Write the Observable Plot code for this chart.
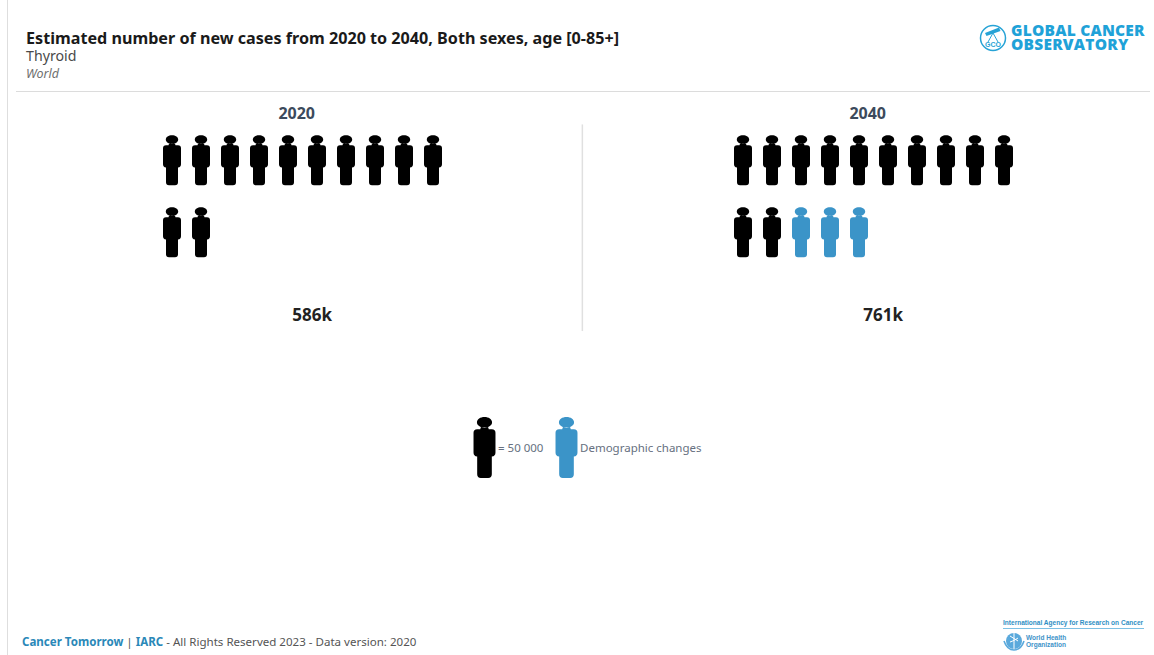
<!DOCTYPE html>
<html>
<head>
<meta charset="utf-8">
<script src="https://cdn.jsdelivr.net/npm/d3@7"></script>
<script src="https://cdn.jsdelivr.net/npm/@observablehq/plot@0.6"></script>
<style>
  html, body { margin: 0; padding: 0; background: #fff; }
  body { width: 1154px; height: 655px; position: relative; overflow: hidden; font-family: "Noto Sans", sans-serif; }
  .abs { position: absolute; white-space: nowrap; }
  #title { left: 26px; top: 31px; font-size: 16.15px; font-weight: 700; color: #1a1a1a; line-height: 15px; }
  #cancer { left: 26px; top: 48px; font-size: 14.2px; color: #4a4a4a; line-height: 16px; }
  #region { left: 26px; top: 66px; font-size: 12.5px; font-style: italic; color: #6f6f6f; line-height: 16px; }
  #rule-h { left: 16px; top: 91px; width: 1134px; height: 1px; background: #dcdcdc; }
  #rule-v { left: 7px; top: 0; width: 1px; height: 655px; background: #dedede; }
  #pictogram { left: 0; top: 92px; }
  #legend { left: 0; top: 400px; }
  #footer { left: 22px; top: 633px; font-size: 11.55px; color: #555; line-height: 18px; }
  #footer b { color: #2a88b8; }
  #gco { left: 978px; top: 20px; }
  #iarc { left: 1000px; top: 614px; }
</style>
</head>
<body>
<div class="abs" id="rule-v"></div>
<div class="abs" id="title"></div>
<div class="abs" id="cancer"></div>
<div class="abs" id="region"></div>
<div class="abs" id="rule-h"></div>
<div class="abs" id="pictogram"></div>
<div class="abs" id="legend"></div>
<div class="abs" id="footer"><b>Cancer Tomorrow</b> | <b>IARC</b> - All Rights Reserved 2023 - Data version: 2020</div>

<svg class="abs" id="gco" width="176" height="38" viewBox="0 0 176 38">
  <circle cx="15" cy="18" r="12.5" fill="none" stroke="#27a3d6" stroke-width="1.5"/>
  <path d="M7 13 L21 7.5 L22.5 11 L8.5 16 Z" fill="#27a3d6"/>
  <path d="M15 13 L10 22 M15 13 L20 22" stroke="#27a3d6" stroke-width="1" fill="none"/>
  <text x="15" y="27" text-anchor="middle" font-family="Liberation Sans" font-size="7" font-weight="700" fill="#27a3d6">GCO</text>
  <text font-family="Open Sans" font-size="15.5" font-weight="800" letter-spacing="0.22" fill="#1fa2d8"><tspan x="33" y="16">GLOBAL CANCER</tspan><tspan x="33" y="30">OBSERVATORY</tspan></text>
</svg>

<svg class="abs" id="iarc" width="154" height="38" viewBox="0 0 154 38">
  <g transform="translate(3 10.5) scale(0.82 1)">
    <text x="0" y="0" font-family="Liberation Sans" font-size="8" font-weight="700" fill="#2f8fc4">International Agency for Research on Cancer</text>
  </g>
  <rect x="3" y="14" width="141" height="1" fill="#7cc0e4"/>
  <circle cx="14" cy="27" r="8" fill="#5aa9dc"/>
  <path d="M4 27 C6 33 9 36 14 36 C19 36 22 33 24 27" fill="none" stroke="#5aa9dc" stroke-width="1.6"/>
  <path d="M14 19 V35 M10 22 C13 24 15 25 18 27 M10 28 C13 27 15 26 18 24" stroke="#fff" stroke-width="1" fill="none"/>
  <g transform="translate(26 0) scale(0.82 1)" font-family="Liberation Sans" font-size="8" font-weight="700" fill="#3e93c9">
    <text x="0" y="26">World Health</text>
    <text x="0" y="33.5">Organization</text>
  </g>
</svg>

<script>
// Figures shown in the chart
const titleText = "Estimated number of new cases from 2020 to 2040, Both sexes, age [0-85+]";
const cancerName = "Thyroid";
const regionName = "World";
const years = [2020, 2040];
const totalsK = [586, 761];          // new cases, thousands
const casesPerIconK = 50;            // one figure stands for 50 000 cases
const iconsPerRow = 10;
const legendKinds = ["Base", "Demographic changes"];
const legendLabels = ["= 50 000", "Demographic changes"];
const kindColors = ["#000000", "#3b94c8"];

document.getElementById("title").textContent = titleText;
document.getElementById("cancer").textContent = cancerName;
document.getElementById("region").textContent = regionName;

// A standing figure, centred on the origin and scaled by the dot radius
const person = {
  draw(ctx, size) {
    const r = Math.sqrt(size / Math.PI);
    const u = r / 25; // drawn on a 50-unit-tall grid
    const P = (x, y) => [x * u, y * u];
    // head
    ctx.moveTo(...P(6.2, -20.6));
    ctx.bezierCurveTo(...P(6.2, -23.2), ...P(3.4, -25), ...P(0, -25));
    ctx.bezierCurveTo(...P(-3.4, -25), ...P(-6.2, -23.2), ...P(-6.2, -20.6));
    ctx.bezierCurveTo(...P(-6.2, -18), ...P(-3.4, -16.2), ...P(0, -16.2));
    ctx.bezierCurveTo(...P(3.4, -16.2), ...P(6.2, -18), ...P(6.2, -20.6));
    ctx.closePath();
    // torso and legs
    ctx.moveTo(...P(-3, -16.5));
    ctx.lineTo(...P(3, -16.5));
    ctx.lineTo(...P(3.5, -15));
    ctx.lineTo(...P(6, -15));
    ctx.quadraticCurveTo(...P(9, -15), ...P(9, -12));
    ctx.lineTo(...P(9, 4));
    ctx.quadraticCurveTo(...P(9, 7), ...P(6, 7.4));
    ctx.lineTo(...P(6, 22));
    ctx.quadraticCurveTo(...P(6, 25), ...P(3, 25));
    ctx.lineTo(...P(-3, 25));
    ctx.quadraticCurveTo(...P(-6, 25), ...P(-6, 22));
    ctx.lineTo(...P(-6, 7.4));
    ctx.quadraticCurveTo(...P(-9, 7), ...P(-9, 4));
    ctx.lineTo(...P(-9, -12));
    ctx.quadraticCurveTo(...P(-9, -15), ...P(-6, -15));
    ctx.lineTo(...P(-3.5, -15));
    ctx.closePath();
  }
};

// One figure per 50 000 cases; those beyond the first year's count are demographic growth
const iconCounts = totalsK.map(t => Math.round(t / casesPerIconK));
const icons = years.flatMap((year, j) =>
  d3.range(iconCounts[j]).map(i => ({
    year,
    col: i % iconsPerRow,
    row: Math.floor(i / iconsPerRow),
    kind: i < iconCounts[0] ? legendKinds[0] : legendKinds[1]
  }))
);
const panels = years.map((year, j) => ({ year, label: `${totalsK[j]}k` }));

const chart = Plot.plot({
  width: 1154,
  height: 245,
  marginLeft: 6,
  marginRight: 6,
  marginTop: 0,
  marginBottom: 0,
  style: { background: "transparent", fontFamily: "Noto Sans" },
  fx: { domain: years, padding: 0, axis: null },
  x: { domain: [0, iconsPerRow - 1], range: [171.5, 432.5], axis: null },
  y: { domain: [0, 1], range: [67.7, 139.7], axis: null },
  color: { domain: legendKinds, range: kindColors },
  marks: [
    Plot.ruleX(panels.filter(d => d.year === years[0]), {
      fx: "year", x: 14.15, y1: -0.49, y2: 2.38, stroke: "#e0e0e0", strokeWidth: 1.5
    }),
    Plot.dot(icons, {
      fx: "year", x: "col", y: "row", r: 25, symbol: person, fill: "kind", stroke: null
    }),
    Plot.text(panels, {
      fx: "year", x: 4.3, y: -0.642, text: d => String(d.year),
      fontSize: 16, fontWeight: 700, fill: "#3c4a5c"
    }),
    Plot.text(panels, {
      fx: "year", x: 4.83, y: 2.164, text: "label",
      fontSize: 17, fontWeight: 700, fill: "#222222"
    })
  ]
});
document.getElementById("pictogram").append(chart);

// Key to the two figure colours
const legendItems = legendKinds.map((kind, i) => ({ kind, label: legendLabels[i] }));
const legend = Plot.plot({
  width: 1154,
  height: 90,
  margin: 0,
  style: { background: "transparent", fontFamily: "Noto Sans" },
  x: { type: "point", domain: legendKinds, range: [483.5, 565.5], padding: 0, axis: null },
  y: { domain: [0, 1], range: [47, 47], axis: null },
  color: { domain: legendKinds, range: kindColors },
  marks: [
    Plot.dot(legendItems, { x: "kind", y: 0, r: 30.5, symbol: person, fill: "kind", stroke: null }),
    Plot.text(legendItems, {
      x: "kind", y: 0, text: "label", textAnchor: "start", dx: 13.5, dy: 1,
      fontSize: 11.5, fill: "#667080"
    })
  ]
});
document.getElementById("legend").append(legend);
</script>
</body>
</html>
